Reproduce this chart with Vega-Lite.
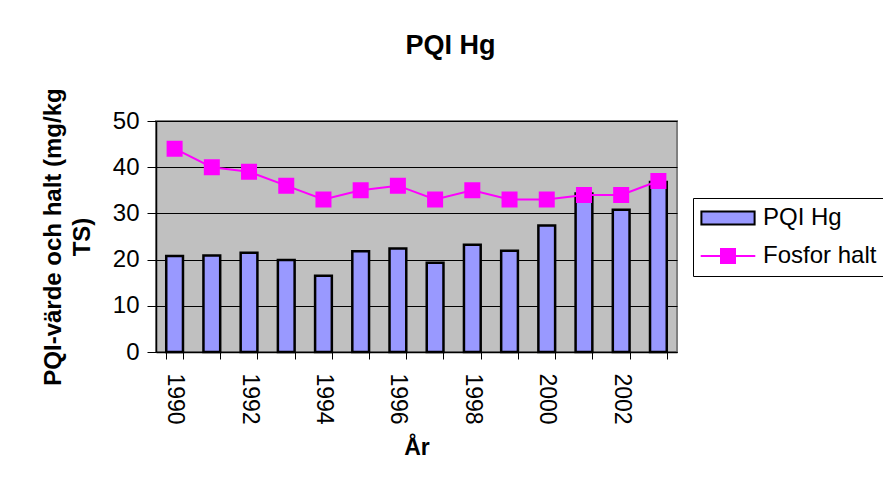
{
  "$schema": "https://vega.github.io/schema/vega-lite/v6.json",
  "autosize": {"type": "none"},
  "width": 521,
  "height": 231,
  "padding": {"left": 156, "top": 121, "right": 206, "bottom": 139},
  "background": "white",
  "title": {"text": "PQI Hg", "fontSize": 27, "font": "Liberation Sans", "fontWeight": "bold", "anchor": "middle", "frame": "group", "dx": 34, "offset": 28, "color": "black"},
  "data": {"values": [
    {"year": "1990", "serie": "PQI Hg", "value": 20.8},
    {"year": "1991", "serie": "PQI Hg", "value": 20.9},
    {"year": "1992", "serie": "PQI Hg", "value": 21.5},
    {"year": "1993", "serie": "PQI Hg", "value": 19.9},
    {"year": "1994", "serie": "PQI Hg", "value": 16.5},
    {"year": "1995", "serie": "PQI Hg", "value": 21.8},
    {"year": "1996", "serie": "PQI Hg", "value": 22.4},
    {"year": "1997", "serie": "PQI Hg", "value": 19.3},
    {"year": "1998", "serie": "PQI Hg", "value": 23.2},
    {"year": "1999", "serie": "PQI Hg", "value": 21.9},
    {"year": "2000", "serie": "PQI Hg", "value": 27.4},
    {"year": "2001", "serie": "PQI Hg", "value": 34.3},
    {"year": "2002", "serie": "PQI Hg", "value": 30.8},
    {"year": "2003", "serie": "PQI Hg", "value": 36.8},
    {"year": "1990", "serie": "Fosfor halt", "value": 44},
    {"year": "1991", "serie": "Fosfor halt", "value": 40},
    {"year": "1992", "serie": "Fosfor halt", "value": 39},
    {"year": "1993", "serie": "Fosfor halt", "value": 36},
    {"year": "1994", "serie": "Fosfor halt", "value": 33},
    {"year": "1995", "serie": "Fosfor halt", "value": 35},
    {"year": "1996", "serie": "Fosfor halt", "value": 36},
    {"year": "1997", "serie": "Fosfor halt", "value": 33},
    {"year": "1998", "serie": "Fosfor halt", "value": 35},
    {"year": "1999", "serie": "Fosfor halt", "value": 33},
    {"year": "2000", "serie": "Fosfor halt", "value": 33},
    {"year": "2001", "serie": "Fosfor halt", "value": 34},
    {"year": "2002", "serie": "Fosfor halt", "value": 34},
    {"year": "2003", "serie": "Fosfor halt", "value": 37}
  ]},
  "encoding": {
    "x": {
      "field": "year", "type": "ordinal",
      "scale": {"paddingInner": 0.55, "paddingOuter": 0.275},
      "axis": {
        "title": "År", "titleFontSize": 23, "titleFont": "Liberation Sans", "titleFontWeight": "bold", "titleColor": "black", "titlePadding": 12,
        "labelAngle": 90, "labelFontSize": 23, "labelFont": "Liberation Sans", "labelColor": "black", "labelPadding": 14,
        "labelExpr": "toNumber(datum.value) % 2 == 0 ? datum.value : ''",
        "tickBand": "extent", "tickColor": "black", "tickSize": 7, "domainColor": "black", "domainWidth": 1.5, "grid": false
      }
    },
    "y": {
      "field": "value", "type": "quantitative",
      "scale": {"domain": [0, 50]},
      "axis": {
        "values": [0, 10, 20, 30, 40, 50],
        "title": ["PQI-värde och halt (mg/kg", "TS)"], "titleFontSize": 24, "titleFont": "Liberation Sans", "titleFontWeight": "bold", "titleColor": "black", "titlePadding": 18, "titleLineHeight": 29,
        "labelFontSize": 24, "labelFont": "Liberation Sans", "labelColor": "black", "labelPadding": 8,
        "tickColor": "black", "tickSize": 9, "domainColor": "black", "domainWidth": 1.5,
        "grid": true, "gridColor": "black", "gridWidth": 1
      }
    }
  },
  "layer": [
    {
      "transform": [{"filter": "datum.serie === 'PQI Hg'"}],
      "mark": {"type": "bar", "stroke": "black", "strokeWidth": 2.5, "opacity": 1},
      "encoding": {
        "fill": {
          "field": "serie", "type": "nominal",
          "scale": {"domain": ["PQI Hg"], "range": ["#9999FF"]},
          "legend": {
            "title": null,
            "orient": "none", "legendX": 545, "legendY": 85,
            "padding": 0,
            "labelFontSize": 24, "labelFont": "Liberation Sans", "labelColor": "black",
            "symbolSize": 196, "symbolOffset": 15, "labelOffset": 23,
            "symbolType": "M-3.8,-0.93H3.8V0.93H-3.8Z",
            "symbolStrokeColor": "black", "symbolStrokeWidth": 2, "symbolOpacity": 1,
            "encode": {"symbols": {"update": {
              "fill": {"value": "#9999FF"},
              "stroke": {"value": "#000000"},
              "strokeWidth": {"value": 2},
              "opacity": {"value": 1}
            }}}
          }
        }
      }
    },
    {
      "transform": [{"filter": "datum.serie === 'Fosfor halt'"}],
      "mark": {"type": "line", "strokeWidth": 2, "point": {"filled": true, "fill": "#FF00FF", "shape": "square", "size": 196, "opacity": 1}},
      "encoding": {
        "stroke": {
          "field": "serie", "type": "nominal",
          "scale": {"domain": ["Fosfor halt"], "range": ["#FF00FF"]},
          "legend": {
            "title": " ", "titleOrient": "top", "titleFontSize": 24, "titlePadding": 14,
            "orient": "none", "legendX": 537, "legendY": 77,
            "strokeColor": "black", "padding": 8,
            "labelFontSize": 24, "labelFont": "Liberation Sans", "labelColor": "black",
            "symbolSize": 196, "symbolOffset": 15, "labelOffset": 23,
            "symbolType": "M-3.9,0H3.9M-1,-1H1V1H-1Z",
            "encode": {"symbols": {"update": {
              "fill": {"value": "#FF00FF"},
              "stroke": {"value": "#FF00FF"},
              "strokeWidth": {"value": 2},
              "opacity": {"value": 1}
            }}}
          }
        }
      }
    }
  ],
  "config": {
    "view": {"fill": "#C0C0C0", "stroke": "#808080", "strokeWidth": 2}
  }
}
